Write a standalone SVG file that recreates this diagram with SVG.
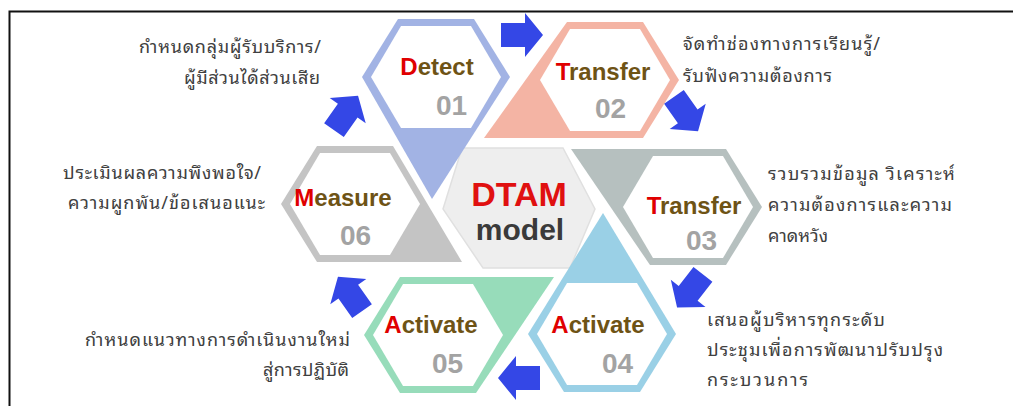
<svg xmlns="http://www.w3.org/2000/svg" xmlns:xlink="http://www.w3.org/1999/xlink" width="1013" height="406" viewBox="0 0 1013 406">
  <style>
    .title { font-family: "Liberation Sans", Arial, sans-serif; font-weight: bold; font-size: 24px; fill: #6e5315; text-anchor: middle; }
    .cap { fill: #e00000; }
    .num { font-family: "Liberation Sans", Arial, sans-serif; font-weight: bold; font-size: 28px; fill: #a3a3a3; }
    .desc { font-family: "Noto Sans Thai Looped", Tahoma, "Leelawadee UI", "Noto Sans Thai", "Noto Sans", sans-serif; font-size: 18px; fill: #404040; }
    .end { text-anchor: end; }
    .inner { fill: #ffffff; }
    .arrow { fill: #3447e6; }
    .frame { stroke: #111111; stroke-width: 2; fill: none; }
  </style>
  <defs>
    <!-- white face of each outer hexagon, centred on the origin -->
    <polygon id="hexIn" points="65,0 35,51 -35,51 -65,0 -35,-51 35,-51"/>
    <!-- block arrow pointing along +x, centred on the origin -->
    <path id="blockArrow" d="M-21,-12 H3 V-22 L21,0 L3,22 V12 H-21 Z"/>
  </defs>

  <rect width="1013" height="406" fill="#ffffff"/>

  <!-- page frame -->
  <path class="frame" d="M9.5,406 V11.5 H1013"/>

  <!-- centre hexagon -->
  <g id="node-dtam">
    <polygon points="443,209 462,148 563,148 595,209 570,268 483,268" fill="#eeeeee" stroke="#e0e0e0" stroke-width="1.5"/>
    <text x="519" y="206" font-family="Liberation Sans, Arial, sans-serif" font-weight="bold" font-size="34" fill="#e01010" text-anchor="middle">DTAM</text>
    <text x="520" y="240" font-family="Liberation Sans, Arial, sans-serif" font-weight="bold" font-size="30" fill="#3a3a3a" text-anchor="middle">model</text>
  </g>

  <!-- 01 Detect -->
  <g id="node-detect" transform="translate(436,77)">
    <polygon points="74,0 -4,122 -74,0 -38,-58 38,-58" fill="#a2b3e4"/>
    <use href="#hexIn" class="inner"/>
    <text class="title" x="1" y="-2"><tspan class="cap">D</tspan>etect</text>
    <text class="num" x="0" y="38">01</text>
  </g>
  <g id="desc-detect" class="desc end">
    <text x="321" y="53" textLength="182" lengthAdjust="spacing">กำหนดกลุ่มผู้รับบริการ/</text>
    <text x="320" y="84" textLength="136" lengthAdjust="spacing">ผู้มีส่วนได้ส่วนเสีย</text>
  </g>

  <!-- 02 Transfer -->
  <g id="node-transfer-02" transform="translate(605,80)">
    <polygon points="74,0 38,58 -121,58 -38,-58 38,-58" fill="#f4b4a4"/>
    <use href="#hexIn" class="inner"/>
    <text class="title" x="-2" y="0"><tspan class="cap">T</tspan>ransfer</text>
    <text class="num" x="-10" y="38">02</text>
  </g>
  <g id="desc-transfer-02" class="desc">
    <text x="683" y="50" textLength="197" lengthAdjust="spacing">จัดทำช่องทางการเรียนรู้/</text>
    <text x="683" y="82" textLength="149" lengthAdjust="spacing">รับฟังความต้องการ</text>
  </g>

  <!-- 03 Transfer -->
  <g id="node-transfer-03" transform="translate(688,207)">
    <polygon points="74,0 38,58 -38,58 -117,-58 38,-58" fill="#b6c0bf"/>
    <use href="#hexIn" class="inner"/>
    <text class="title" x="6" y="7"><tspan class="cap">T</tspan>ransfer</text>
    <text class="num" x="-2" y="43">03</text>
  </g>
  <g id="desc-transfer-03" class="desc">
    <text x="768" y="180" textLength="187" lengthAdjust="spacing">รวบรวมข้อมูล วิเคราะห์</text>
    <text x="768" y="211" textLength="184" lengthAdjust="spacing">ความต้องการและความ</text>
    <text x="768" y="242" textLength="60" lengthAdjust="spacing">คาดหวัง</text>
  </g>

  <!-- 04 Activate -->
  <g id="node-activate-04" transform="translate(602,334)">
    <polygon points="74,0 38,58 -38,58 -74,0 1,-121" fill="#9ad0e6"/>
    <use href="#hexIn" class="inner"/>
    <text class="title" x="-4" y="-1"><tspan class="cap">A</tspan>ctivate</text>
    <text class="num" x="0" y="39">04</text>
  </g>
  <g id="desc-activate-04" class="desc">
    <text x="707" y="326" textLength="178" lengthAdjust="spacing">เสนอผู้บริหารทุกระดับ</text>
    <text x="707" y="356" textLength="236" lengthAdjust="spacing">ประชุมเพื่อการพัฒนาปรับปรุง</text>
    <text x="707" y="386" textLength="101" lengthAdjust="spacing">กระบวนการ</text>
  </g>

  <!-- 05 Activate -->
  <g id="node-activate-05" transform="translate(438,335)">
    <polygon points="38,58 -38,58 -74,0 -38,-58 116,-58" fill="#97dcba"/>
    <use href="#hexIn" class="inner"/>
    <text class="title" x="-7" y="-2"><tspan class="cap">A</tspan>ctivate</text>
    <text class="num" x="-6" y="38">05</text>
  </g>
  <g id="desc-activate-05" class="desc end">
    <text x="350" y="346" textLength="265" lengthAdjust="spacing">กำหนดแนวทางการดำเนินงานใหม่</text>
    <text x="349" y="376" textLength="86" lengthAdjust="spacing">สู่การปฏิบัติ</text>
  </g>

  <!-- 06 Measure -->
  <g id="node-measure-06" transform="translate(355,204)">
    <polygon points="107,58 -38,58 -74,0 -38,-58 38,-58" fill="#c4c4c4"/>
    <use href="#hexIn" class="inner"/>
    <text class="title" x="-12" y="2"><tspan class="cap">M</tspan>easure</text>
    <text class="num" x="-15" y="41">06</text>
  </g>
  <g id="desc-measure-06" class="desc end">
    <text x="261" y="179" textLength="198" lengthAdjust="spacing">ประเมินผลความพึงพอใจ/</text>
    <text x="265" y="209" textLength="197" lengthAdjust="spacing">ความผูกพัน/ข้อเสนอแนะ</text>
  </g>

  <!-- cycle arrows, clockwise 01 → 06 -->
  <g id="connectors">
    <use href="#blockArrow" class="arrow" transform="translate(522,35)"/>
    <use href="#blockArrow" class="arrow" transform="translate(686,114) rotate(55)"/>
    <use href="#blockArrow" class="arrow" transform="translate(690,291) rotate(128)"/>
    <use href="#blockArrow" class="arrow" transform="translate(519,378) rotate(180)"/>
    <use href="#blockArrow" class="arrow" transform="translate(350,294) rotate(235)"/>
    <use href="#blockArrow" class="arrow" transform="translate(346,113) rotate(-55)"/>
  </g>
</svg>
